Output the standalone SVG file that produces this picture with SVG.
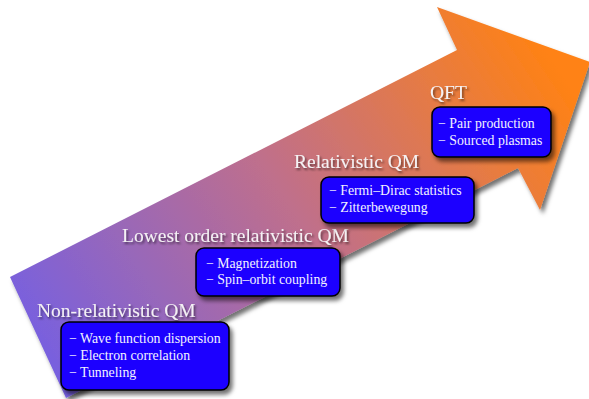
<svg xmlns="http://www.w3.org/2000/svg" width="589" height="399" viewBox="0 0 589 399">
<defs>
<linearGradient id="ag" gradientUnits="userSpaceOnUse" x1="40" y1="370" x2="540" y2="40">
<stop offset="0" stop-color="#7560e2"/>
<stop offset="0.5" stop-color="#bf6f8c"/>
<stop offset="1" stop-color="#ff8214"/>
</linearGradient>
<filter id="sh" x="-10%" y="-10%" width="130%" height="130%">
<feDropShadow dx="3" dy="4" stdDeviation="2" flood-color="#000" flood-opacity="0.55"/>
</filter>
<filter id="tsh" x="-10%" y="-30%" width="130%" height="160%">
<feDropShadow dx="1.5" dy="2" stdDeviation="1.2" flood-color="#000" flood-opacity="0.55"/>
</filter>
</defs>
<style>
.box{fill:#1a00ff;stroke:#000;stroke-width:1.5;filter:url(#sh)}
.lbl{font-family:"Liberation Serif","Times New Roman",serif;font-size:19.5px;fill:#f4f2f4;filter:url(#tsh)}
.itm{font-family:"Liberation Serif","Times New Roman",serif;font-size:13.8px;fill:#f2f2ff}
</style>
<rect width="589" height="399" fill="#fff"/>
<g id="arrow">
<polygon points="10,277 457,50 437,7 590,62 540,210 518,168 66,398" fill="url(#ag)" filter="url(#sh)"/>
</g>
<g id="connectors"></g>
<g id="node-nonrel">
<text class="lbl" x="37" y="317">Non-relativistic QM</text>
<rect class="box" x="61" y="322" width="168" height="68" rx="8"/>
<text class="itm" x="69" y="343">− Wave function dispersion</text>
<text class="itm" x="69" y="360">− Electron correlation</text>
<text class="itm" x="69" y="377">− Tunneling</text>
</g>
<g id="node-lowest">
<text class="lbl" x="122" y="242">Lowest order relativistic QM</text>
<rect class="box" x="196" y="248" width="144" height="48" rx="8"/>
<text class="itm" x="206" y="268">− Magnetization</text>
<text class="itm" x="206" y="284">− Spin–orbit coupling</text>
</g>
<g id="node-rel">
<text class="lbl" x="294" y="168">Relativistic QM</text>
<rect class="box" x="321" y="177" width="153" height="46" rx="8"/>
<text class="itm" x="329" y="195">− Fermi–Dirac statistics</text>
<text class="itm" x="329" y="212">− Zitterbewegung</text>
</g>
<g id="node-qft">
<text class="lbl" x="430" y="99">QFT</text>
<rect class="box" x="432" y="107" width="119" height="50" rx="8"/>
<text class="itm" x="438" y="128">− Pair production</text>
<text class="itm" x="438" y="145">− Sourced plasmas</text>
</g>
</svg>
